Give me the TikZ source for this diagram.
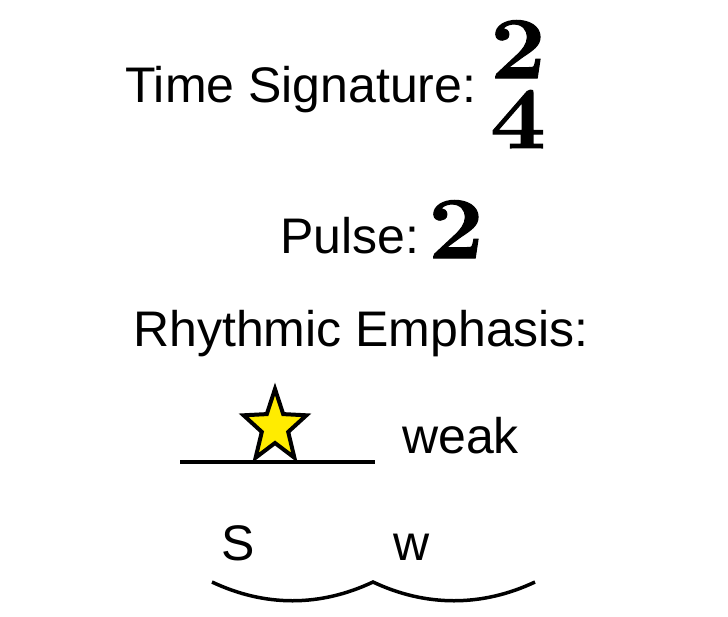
\documentclass[tikz,border=0pt]{standalone}
\usepackage{fontspec}
\setmainfont{Liberation Sans}
\newfontfamily\sigfont{Latin Modern Roman}[BoldFeatures={FakeBold=1.2}]
\definecolor{staryellow}{RGB}{255,236,0}

\begin{document}
\begin{tikzpicture}[x=1pt,y=-1pt,
  lbl/.style={font=\fontsize{50}{60}\selectfont,anchor=base west,inner sep=0pt},
  digit/.style={font=\sigfont\bfseries\fontsize{88}{90}\selectfont,anchor=base,inner sep=0pt,xscale=1.12,transform shape},
  stroke/.style={line width=3.5pt}]
\useasboundingbox (0,0) rectangle (728,616);
\node[lbl] (sig) at (125,102) {Time Signature:};
\node[digit] (upper) at (518,78) {2};
\node[digit] (lower) at (518,148) {4};
\node[lbl] (pulse) at (280,253) {Pulse:};
\node[digit] (beats) at (456,258) {2};
\node[lbl] (emph) at (133,346) {Rhythmic Emphasis:};
\coordinate (beatL) at (180,462);
\coordinate (beatR) at (375,462);
\draw[stroke] (beatL) -- (beatR);
\draw[line width=4pt,fill=staryellow] (275,389) -- (283.2,414.1) -- (306.4,415.3)
  -- (288.2,431.9) -- (294.4,457.7) -- (275,443) -- (255.6,457.7)
  -- (261.8,431.9) -- (243.6,415.3) -- (266.8,414.1) -- cycle;
\node[lbl] (weak) at (402,453) {weak};
\node[lbl] (strong) at (221,560) {S};
\node[lbl] (wsym) at (393,560) {w};
\coordinate (arcA) at (212,582);
\coordinate (arcB) at (373,582);
\coordinate (arcC) at (535,582);
\draw[stroke] (arcA) .. controls (265,607) and (320,607) .. (arcB)
  .. controls (426,607) and (482,607) .. (arcC);
\end{tikzpicture}
\end{document}
